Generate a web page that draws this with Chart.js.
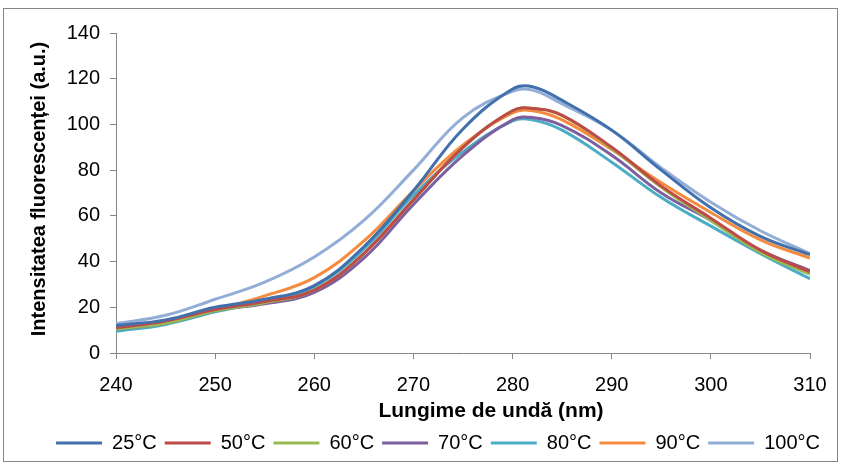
<!DOCTYPE html>
<html>
<head>
<meta charset="utf-8">
<script src="https://cdn.jsdelivr.net/npm/chart.js@4"></script>
<style>
  html, body { margin: 0; padding: 0; background: #fff; }
  #wrap { position: relative; width: 845px; height: 469px; }
</style>
</head>
<body>
<div id="wrap"><canvas id="chart" width="845" height="469"></canvas></div>
<script>
// wavelength (nm)
const wavelengths = [240, 245, 250, 255, 260, 265, 270, 275, 280, 282, 285, 290, 295, 300, 305, 310];
// fluorescence intensity (a.u.) per temperature
const t25  = [12.0, 14.5, 20.0, 23.5, 29.5, 46.5, 71.0, 98.0, 115.5, 116.5, 110.5, 97.5, 80.0, 63.5, 51.0, 43.0];
const t50  = [11.0, 14.0, 19.0, 22.5, 27.5, 43.5, 67.0, 90.0, 106.0, 107.0, 104.0, 90.0, 73.0, 59.0, 45.0, 35.5];
const t60  = [10.5, 13.0, 18.5, 22.0, 27.5, 43.5, 67.0, 90.0, 106.0, 107.0, 104.0, 89.5, 72.5, 58.0, 44.0, 34.5];
const t70  = [10.5, 13.0, 18.5, 21.5, 26.5, 41.5, 65.0, 86.5, 102.0, 103.0, 99.5, 86.5, 70.0, 58.0, 45.0, 36.0];
const t80  = [9.5, 12.5, 18.0, 22.5, 29.0, 45.5, 69.0, 88.0, 101.5, 102.0, 97.5, 83.5, 68.0, 55.5, 43.5, 32.5];
const t90  = [11.0, 14.0, 19.0, 25.0, 33.0, 49.0, 71.0, 91.0, 105.0, 106.0, 102.0, 89.0, 74.5, 61.5, 49.5, 41.5];
const t100 = [12.8, 16.5, 23.5, 31.0, 42.0, 58.0, 80.0, 103.0, 114.5, 115.0, 109.0, 97.5, 81.0, 66.0, 53.5, 43.5];

const seriesNames = ["25°C", "50°C", "60°C", "70°C", "80°C", "90°C", "100°C"];
const seriesData = [t25, t50, t60, t70, t80, t90, t100];
const seriesColors = ["#4170AD", "#BE4B48", "#98B954", "#7D5FA0", "#4BACC6", "#F58B3C", "#93AED6"];

const xTicks = [240, 250, 260, 270, 280, 290, 300, 310];
const yTicks = [0, 20, 40, 60, 80, 100, 120, 140];

const FONT = "'Liberation Sans', Arial, sans-serif";
const AXIS_GRAY = "#868686";

const datasets = seriesNames.map((name, i) => ({
  label: name,
  data: wavelengths.map((w, j) => ({ x: w, y: seriesData[i][j] })),
  borderColor: seriesColors[i],
  backgroundColor: seriesColors[i],
  borderWidth: 3,
  pointRadius: 0,
  tension: 0.4,
  fill: false
}));

// white background, outer frame and the two axis titles
const framePlugin = {
  id: "frame",
  afterLayout(chart) {
    // legend sits a bit right of the plot centre, like in the original
    chart.legend.left += 33;
    chart.legend.right += 33;
  },
  beforeDraw(chart) {
    const ctx = chart.ctx;
    ctx.save();
    ctx.fillStyle = "#fff";
    ctx.fillRect(0, 0, chart.width, chart.height);
    ctx.strokeStyle = AXIS_GRAY;
    ctx.lineWidth = 1;
    ctx.strokeRect(3.5, 8.5, 834, 453);
    ctx.restore();
  },
  afterDraw(chart) {
    const ctx = chart.ctx;
    ctx.save();
    ctx.fillStyle = "#000";
    ctx.textAlign = "center";
    ctx.textBaseline = "middle";
    ctx.font = "bold 21px " + FONT;
    ctx.fillText("Lungime de undă (nm)", 491, 411);
    ctx.font = "bold 20px " + FONT;
    ctx.translate(39, 189);
    ctx.rotate(-Math.PI / 2);
    ctx.fillText("Intensitatea fluorescenței (a.u.)", 0, 0);
    ctx.restore();
  }
};

new Chart(document.getElementById("chart"), {
  type: "line",
  data: { datasets: datasets },
  options: {
    responsive: false,
    animation: false,
    layout: { padding: { top: 33, left: 0, right: 35, bottom: 6 } },
    plugins: {
      tooltip: { enabled: false },
      legend: {
        position: "bottom",
        labels: {
          usePointStyle: true,
          pointStyle: "line",
          pointStyleWidth: 46,
          boxHeight: 19,
          padding: 8,
          color: "#000",
          font: { family: FONT, size: 20 }
        }
      }
    },
    scales: {
      x: {
        type: "linear",
        min: 240,
        max: 310,
        afterFit: s => { s.height = 72; },
        afterBuildTicks: s => { s.ticks = xTicks.map(v => ({ value: v })); },
        ticks: { color: "#000", padding: 14, font: { family: FONT, size: 20 } },
        grid: { drawOnChartArea: false, drawTicks: true, tickLength: 6, color: AXIS_GRAY },
        border: { color: AXIS_GRAY, width: 1 }
      },
      y: {
        min: 0,
        max: 140,
        afterFit: s => { s.width = 116; },
        afterBuildTicks: s => { s.ticks = yTicks.map(v => ({ value: v })); },
        ticks: { color: "#000", padding: 10, font: { family: FONT, size: 20 } },
        grid: { drawOnChartArea: false, drawTicks: true, tickLength: 6, color: AXIS_GRAY },
        border: { color: AXIS_GRAY, width: 1 }
      }
    }
  },
  plugins: [framePlugin]
});
</script>
</body>
</html>
